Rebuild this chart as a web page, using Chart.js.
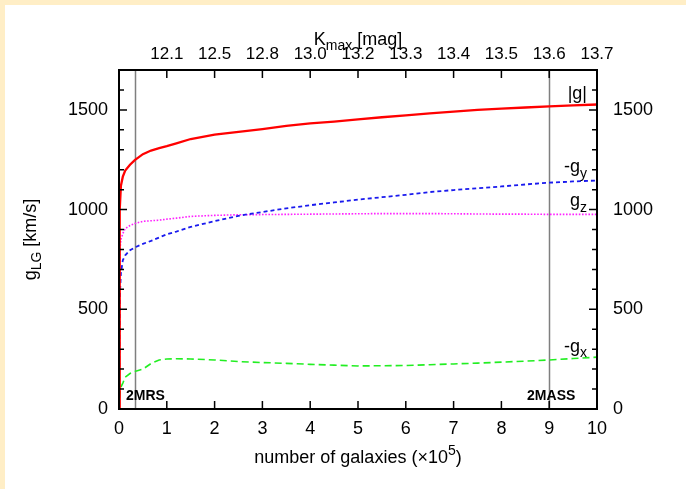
<!DOCTYPE html>
<html>
<head>
<meta charset="utf-8">
<title>Local Group acceleration vs. number of galaxies</title>
<script src="https://cdn.jsdelivr.net/npm/chart.js@4/dist/chart.umd.min.js"></script>
<style>
  html, body { margin: 0; padding: 0; background: #fff; overflow: hidden; }
  canvas { display: block; }
  .edge { position: fixed; left: 0; top: 0; background: #FFEEC6; z-index: 2; }
  #edgeTop { width: 686px; height: 5px; }
  #edgeLeft { width: 5px; height: 489px; }
</style>
</head>
<body>
<div class="edge" id="edgeTop"></div>
<div class="edge" id="edgeLeft"></div>
<canvas id="chart" width="686" height="489"></canvas>
<script>
// Number of galaxies included, in units of 10^5
const galaxies = [0, 0.01, 0.02, 0.04, 0.08, 0.13, 0.23, 0.33, 0.5, 0.67, 0.84, 1.0, 1.2, 1.5,
  2.0, 2.5, 3.0, 3.5, 4.0, 4.5, 5.0, 5.5, 6.0, 6.5, 7.0, 7.5, 8.0, 8.5, 9.0, 9.5, 10.0];

// Acceleration components [km/s]
const gAbs = [0, 600, 1000, 1120, 1165, 1196, 1225, 1248, 1278, 1296, 1308, 1318, 1332, 1354,
  1376, 1390, 1404, 1420, 1432, 1441, 1452, 1463, 1472, 1482, 1491, 1500, 1506, 1512, 1518, 1523, 1527];
const gyNeg = [0, 380, 580, 681, 746, 771, 796, 810, 828, 843, 860, 876, 890, 913,
  942, 969, 988, 1006, 1022, 1036, 1050, 1062, 1074, 1088, 1098, 1107, 1116, 1126, 1135, 1141, 1146];
const gz = [0, 600, 800, 850, 880, 905, 920, 930, 941, 944, 947, 952, 957, 966,
  971, 974, 975, 976, 977, 978, 979, 980, 980, 980, 979, 978, 977, 977, 976, 976, 976];
const gxNeg = [0, 50, 80, 110, 130, 160, 178, 188, 200, 228, 246, 251, 252, 251,
  246, 238, 233, 229, 224, 220, 216, 217, 218, 222, 226, 230, 235, 240, 246, 253, 260];

// Limiting magnitude on the top axis
const kmaxTickPositions = [1, 2, 3, 4, 5, 6, 7, 8, 9, 10];
const kmaxTickLabels = ['12.1', '12.5', '12.8', '13.0', '13.2', '13.3', '13.4', '13.5', '13.6', '13.7'];

// Survey sizes
const surveyPositions = [0.33, 9.0];
const surveyNames = ['2MRS', '2MASS'];

const FONT = '"Liberation Sans", Arial, Helvetica, sans-serif';

const pts = ys => galaxies.map((x, i) => ({ x: x, y: ys[i] }));

// Draw text made of normal / subscript / superscript runs
function runsWidth(ctx, runs, size) {
  let w = 0;
  runs.forEach(r => {
    ctx.font = (r.s ? Math.round(size * 0.75) : size) + 'px ' + FONT;
    w += ctx.measureText(r.t).width;
  });
  return w;
}
function drawRuns(ctx, runs, x, y, size, align) {
  const w = runsWidth(ctx, runs, size);
  let cx = align === 'right' ? x - w : align === 'center' ? x - w / 2 : x;
  ctx.textAlign = 'left';
  ctx.textBaseline = 'alphabetic';
  runs.forEach(r => {
    const sz = r.s ? Math.round(size * 0.75) : size;
    ctx.font = sz + 'px ' + FONT;
    const dy = r.s === 'sub' ? size * 0.3 : r.s === 'sup' ? -size * 0.42 : 0;
    ctx.fillText(r.t, cx, y + dy);
    cx += ctx.measureText(r.t).width;
  });
}

const decor = {
  id: 'decor',
  beforeDraw(chart) {
    const { ctx } = chart;
    ctx.save();
    ctx.setTransform(1, 0, 0, 1, 0, 0);
    ctx.fillStyle = '#ffffff';
    ctx.fillRect(0, 0, ctx.canvas.width, ctx.canvas.height);
    ctx.restore();
  },
  beforeDatasetsDraw(chart) {
    const { ctx, chartArea: a, scales: { x } } = chart;
    ctx.save();
    ctx.strokeStyle = '#7f7f7f';
    ctx.lineWidth = 1.5;
    surveyPositions.forEach(v => {
      const px = Math.round(x.getPixelForValue(v)) + 0.5;
      ctx.beginPath();
      ctx.moveTo(px, a.top);
      ctx.lineTo(px, a.bottom);
      ctx.stroke();
    });
    ctx.restore();
  },
  afterDraw(chart) {
    const { ctx, chartArea: a, scales } = chart;
    const { x, y, y2, xTop } = scales;
    ctx.save();
    ctx.strokeStyle = '#000';
    ctx.fillStyle = '#000';

    // inward tick marks
    ctx.lineWidth = 1.5;
    ctx.beginPath();
    y.ticks.forEach(t => {
      const py = y.getPixelForValue(t.value);
      const len = t.value % 500 === 0 ? 8 : 5;
      ctx.moveTo(a.left, py); ctx.lineTo(a.left + len, py);
    });
    y2.ticks.forEach(t => {
      const py = y2.getPixelForValue(t.value);
      const len = t.value % 500 === 0 ? 8 : 5;
      ctx.moveTo(a.right, py); ctx.lineTo(a.right - len, py);
    });
    x.ticks.forEach(t => {
      const px = x.getPixelForValue(t.value);
      ctx.moveTo(px, a.bottom); ctx.lineTo(px, a.bottom - 8);
    });
    xTop.ticks.forEach(t => {
      const px = xTop.getPixelForValue(t.value);
      ctx.moveTo(px, a.top); ctx.lineTo(px, a.top + 8);
    });
    ctx.stroke();

    // frame
    ctx.lineWidth = 2;
    ctx.strokeRect(a.left, a.top, a.right - a.left, a.bottom - a.top);

    // survey names
    ctx.font = 'bold 14px ' + FONT;
    ctx.textBaseline = 'alphabetic';
    ctx.textAlign = 'left';
    ctx.fillText(surveyNames[0], x.getPixelForValue(0) + 7, 400);
    ctx.textAlign = 'center';
    ctx.fillText(surveyNames[1], x.getPixelForValue(surveyPositions[1]) + 2, 400);

    // curve labels
    const lx = a.right - 10;
    drawRuns(ctx, [{ t: '|g|' }], lx, y.getPixelForValue(1556), 18, 'right');
    drawRuns(ctx, [{ t: '-g' }, { t: 'y', s: 'sub' }], lx, y.getPixelForValue(1186), 18, 'right');
    drawRuns(ctx, [{ t: 'g' }, { t: 'z', s: 'sub' }], lx, y.getPixelForValue(1016), 18, 'right');
    drawRuns(ctx, [{ t: '-g' }, { t: 'x', s: 'sub' }], lx, y.getPixelForValue(286), 18, 'right');

    // axis titles
    const cxm = (a.left + a.right) / 2;
    drawRuns(ctx, [{ t: 'number of galaxies (\u00d710' }, { t: '5', s: 'sup' }, { t: ')' }], cxm, 463, 18, 'center');
    drawRuns(ctx, [{ t: 'K' }, { t: 'max', s: 'sub' }, { t: ' [mag]' }], cxm, 45, 18, 'center');
    ctx.translate(36, (a.top + a.bottom) / 2);
    ctx.rotate(-Math.PI / 2);
    drawRuns(ctx, [{ t: 'g' }, { t: 'LG', s: 'sub' }, { t: ' [km/s]' }], 0, 0, 18, 'center');
    ctx.restore();
  }
};

const tickFont = { family: FONT, size: 18 };

new Chart(document.getElementById('chart'), {
  type: 'line',
  data: {
    datasets: [
      { label: '|g|', data: pts(gAbs), borderColor: '#ff0000', borderWidth: 2.3 },
      { label: '-g_y', data: pts(gyNeg), borderColor: '#1a1aee', borderWidth: 1.8, borderDash: [4, 3] },
      { label: 'g_z', data: pts(gz), borderColor: '#ff22ff', borderWidth: 1.6, borderDash: [1.6, 1.6] },
      { label: '-g_x', data: pts(gxNeg), borderColor: '#22ee22', borderWidth: 1.6, borderDash: [7, 4] }
    ]
  },
  options: {
    responsive: false,
    animation: false,
    events: [],
    layout: { padding: 0 },
    elements: { point: { radius: 0 }, line: { tension: 0, fill: false } },
    plugins: { legend: { display: false }, tooltip: { enabled: false } },
    scales: {
      x: {
        type: 'linear', position: 'bottom', min: 0, max: 10,
        grid: { display: false, drawTicks: false }, border: { display: false },
        ticks: { stepSize: 1, color: '#000', font: tickFont, padding: 9, autoSkip: false, maxRotation: 0 },
        afterFit: s => { s.height = 80; }
      },
      xTop: {
        type: 'linear', position: 'top', min: 0, max: 10,
        grid: { display: false, drawTicks: false }, border: { display: false },
        afterBuildTicks: s => { s.ticks = kmaxTickPositions.map(v => ({ value: v })); },
        ticks: {
          color: '#000', font: { family: FONT, size: 17 }, padding: 5, autoSkip: false, maxRotation: 0,
          callback: v => kmaxTickLabels[kmaxTickPositions.indexOf(v)]
        },
        afterFit: s => { s.height = 70; }
      },
      y: {
        type: 'linear', position: 'left', min: 0, max: 1700,
        grid: { display: false, drawTicks: false }, border: { display: false },
        ticks: { stepSize: 100, color: '#000', font: tickFont, padding: 11, autoSkip: false,
          callback: v => (v % 500 === 0 ? String(v) : '') },
        afterFit: s => { s.width = 119; }
      },
      y2: {
        type: 'linear', position: 'right', min: 0, max: 1700,
        grid: { display: false, drawTicks: false }, border: { display: false },
        ticks: { stepSize: 100, color: '#000', font: tickFont, padding: 16, autoSkip: false,
          callback: v => (v % 500 === 0 ? String(v) : '') },
        afterFit: s => { s.width = 89; }
      }
    }
  },
  plugins: [decor]
});
</script>
</body>
</html>
